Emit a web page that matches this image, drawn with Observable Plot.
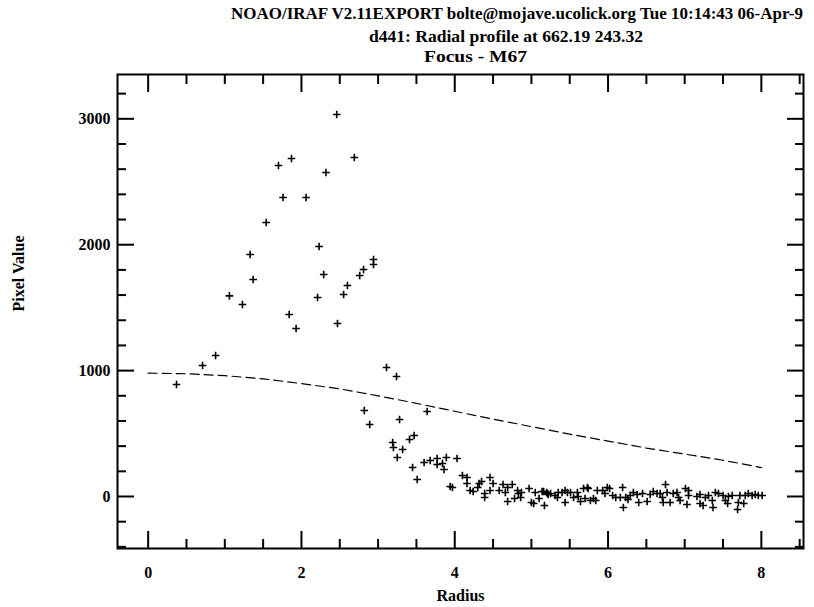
<!DOCTYPE html>
<html>
<head>
<meta charset="utf-8">
<script src="https://cdn.jsdelivr.net/npm/d3@7"></script>
<script src="https://cdn.jsdelivr.net/npm/@observablehq/plot@0.6"></script>
<style>
  html, body { margin: 0; padding: 0; background: #fff; }
  #wrap { position: relative; width: 814px; }
  #titles { position: relative; width: 814px; height: 66px; font-family: "Liberation Serif", serif; font-weight: bold; font-size: 17px; color: #000; }
  #titles span { position: absolute; white-space: nowrap; transform-origin: 0 50%; line-height: 20px; }
</style>
</head>
<body>
<div id="wrap">
  <div id="titles"></div>
  <div id="chart"></div>
</div>
<script>
// ---- Data ----
const titleLines = [
  "NOAO/IRAF V2.11EXPORT bolte@mojave.ucolick.org Tue 10:14:43 06-Apr-9",
  "d441: Radial profile at 662.19 243.32",
  "Focus - M67"
];
const xLabel = "Radius";
const yLabel = "Pixel Value";

const xMajorTicks = [0, 2, 4, 6, 8];
const xMinorTicks = [0.5, 1, 1.5, 2.5, 3, 3.5, 4.5, 5, 5.5, 6.5, 7, 7.5, 8.5];
const yMajorTicks = [0, 1000, 2000, 3000];
const yMinorTicks = [-400, -200, 200, 400, 600, 800, 1200, 1400, 1600, 1800, 2200, 2400, 2600, 2800, 3200];

// measured profile points (radius, pixel value)
const radius = [
  0.37, 0.71, 0.88, 1.06, 1.23, 1.33, 1.37, 1.54, 1.70, 1.87, 1.76, 1.84, 1.93, 2.06, 2.21, 2.23, 2.29, 2.32, 2.46, 2.47,
  2.55, 2.60, 2.69, 2.76, 2.81, 2.94, 2.94,
  3.11, 3.24, 2.82, 2.89, 3.28, 3.64, 3.19, 3.20, 3.32, 3.41, 3.47, 3.25, 3.45, 3.51, 3.60, 3.68, 3.77, 3.77, 3.84, 3.86, 3.89,
  4.03, 3.94, 3.97, 4.10, 4.16, 4.16, 4.20, 4.24, 4.30, 4.32, 4.35, 4.39, 4.39, 4.46, 4.46, 4.50, 4.58, 4.63, 4.66, 4.69, 4.69,
  4.75, 4.78, 4.82, 4.83, 4.86, 4.87, 4.97, 5.00, 5.03, 5.05, 5.10, 5.14, 5.17, 5.20, 5.22,
  5.16, 5.21, 5.25, 5.31, 5.34, 5.35, 5.40, 5.44, 5.47, 5.44, 5.51, 5.55, 5.60, 5.61, 5.64, 5.68, 5.73, 5.74, 5.70, 5.77,
  5.81, 5.84, 5.86, 5.93, 5.96, 5.99, 6.02, 6.06, 6.10, 6.16, 6.19, 6.20, 6.23, 6.26, 6.29, 6.33, 6.38, 6.40, 6.45, 6.51,
  6.55, 6.59, 6.64,
  6.68, 6.71, 6.72, 6.75, 6.77, 6.81, 6.85, 6.90, 6.92, 6.94, 7.01, 7.05, 7.03, 7.05, 7.16, 7.20, 7.20, 7.24, 7.27, 7.31,
  7.36, 7.37, 7.40, 7.44, 7.50, 7.53, 7.56, 7.57, 7.62, 7.69, 7.70, 7.72, 7.77, 7.79, 7.83, 7.88, 7.92, 7.96, 8.01
];
const pixelValue = [
  890, 1040, 1120, 1594, 1525, 1922, 1724, 2176, 2629, 2685, 2375, 1446, 1334, 2375, 1581, 1986, 1763, 2574, 3034, 1374,
  1604, 1676, 2693, 1755, 1803, 1882, 1843,
  1025, 953, 683, 572, 612, 675, 429, 389, 373, 453, 485, 310, 230, 135, 270, 286, 302, 254, 262, 214, 310,
  302, 79, 71, 167, 151, 103, 48, 40, 71, 103, 119, 24, -8, 151, 48, 103, 48, 95, 32, 71, -40,
  95, -16, 48, 24, -8, 32, 64, -48, -56, 32, -16, 40, -71, 32, 16,
  40, 24, 24, 8, -8, 32, 32, 48, 32, -48, 32, -8, 32, 0, -40, 64, 71, 64, -16, -32,
  -16, -32, 48, 48, 24, 71, 64, 8, -8, -8, 71, -87, -8, -24, 8, 32, 16, -48, 24, -40,
  16, 40, 24,
  24, -8, -48, 95, 32, -48, 24, 32, -8, -32, 64, 48, -64, 8, 0, 16, -56, -71, -8, 8,
  -32, -87, 32, 24, 8, -32, -56, 0, 8, -103, -48, 8, -56, 8, 24, 8, 16, 8, 8
];

// fitted profile (dashed curve)
const fitRadius = [0, 0.5, 1, 1.5, 2, 2.5, 3, 3.5, 4, 4.5, 5, 5.5, 6, 6.5, 7, 7.5, 8];
const fitValue  = [980, 975, 960, 935, 897, 855, 800, 740, 677, 615, 555, 495, 440, 385, 337, 288, 230];

// ---- Build ----
const points = radius.map((r, i) => ({r, v: pixelValue[i]}));
const fit = fitRadius.map((r, i) => ({r, v: fitValue[i]}));

const plusSymbol = {
  draw(context, size) {
    const a = Math.sqrt(size / Math.PI);
    context.moveTo(-a, 0); context.lineTo(a, 0);
    context.moveTo(0, -a); context.lineTo(0, a);
  }
};

const font = {fontFamily: "Liberation Serif", fontWeight: "bold"};

const chart = Plot.plot({
  width: 814,
  height: 541,
  marginTop: 8,
  marginBottom: 59,
  marginLeft: 117,
  marginRight: 11,
  x: {domain: [-0.4, 8.55]},
  y: {domain: [-413, 3352]},
  style: {fontFamily: "Liberation Serif", fontWeight: "bold", fontSize: "16px", background: "white", color: "black"},
  marks: [
    Plot.frame({stroke: "black", strokeWidth: 2}),
    // inward ticks, all four sides
    Plot.axisX(xMajorTicks, {anchor: "bottom", tickSize: -17, fill: "none", label: null, strokeWidth: 2}),
    Plot.axisX(xMinorTicks, {anchor: "bottom", tickSize: -9, fill: "none", label: null, strokeWidth: 2}),
    Plot.axisX(xMajorTicks, {anchor: "top", tickSize: -17, fill: "none", label: null, strokeWidth: 2}),
    Plot.axisX(xMinorTicks, {anchor: "top", tickSize: -9, fill: "none", label: null, strokeWidth: 2}),
    Plot.axisY(yMajorTicks, {anchor: "left", tickSize: -17, fill: "none", label: null, strokeWidth: 2}),
    Plot.axisY(yMinorTicks, {anchor: "left", tickSize: -9, fill: "none", label: null, strokeWidth: 2}),
    Plot.axisY(yMajorTicks, {anchor: "right", tickSize: -17, fill: "none", label: null, strokeWidth: 2}),
    Plot.axisY(yMinorTicks, {anchor: "right", tickSize: -9, fill: "none", label: null, strokeWidth: 2}),
    // tick labels
    Plot.axisX(xMajorTicks, {anchor: "bottom", tickSize: 0, tickPadding: 18, label: null, fontSize: 16, tickFormat: d => String(d)}),
    Plot.axisY(yMajorTicks, {anchor: "left", tickSize: 0, tickPadding: 7, label: null, fontSize: 16, tickFormat: d => String(d)}),
    // axis titles
    Plot.text([xLabel], {frameAnchor: "bottom", dy: 52, fontSize: 16, ...font}),
    Plot.text([yLabel], {frameAnchor: "left", dx: -99, rotate: -90, fontSize: 16, ...font}),
    // fitted curve
    Plot.line(fit, {x: "r", y: "v", stroke: "black", strokeWidth: 1.2, strokeDasharray: "9,5"}),
    // data points
    Plot.dot(points, {x: "r", y: "v", symbol: plusSymbol, r: 3.8, stroke: "black", strokeWidth: 1.6, fill: "none"})
  ]
});
document.getElementById("chart").appendChild(chart);

// titles
const titleLayout = [
  {left: 231, width: 572, cy: 14},
  {left: 369, width: 274, cy: 37},
  {left: 424, width: 103, cy: 57}
];
const tdiv = document.getElementById("titles");
titleLines.forEach((t, i) => {
  const s = document.createElement("span");
  s.textContent = t;
  s.style.left = titleLayout[i].left + "px";
  s.style.top = (titleLayout[i].cy - 10) + "px";
  tdiv.appendChild(s);
  const w = s.getBoundingClientRect().width;
  s.style.transform = `scaleX(${titleLayout[i].width / w})`;
});
</script>
</body>
</html>
